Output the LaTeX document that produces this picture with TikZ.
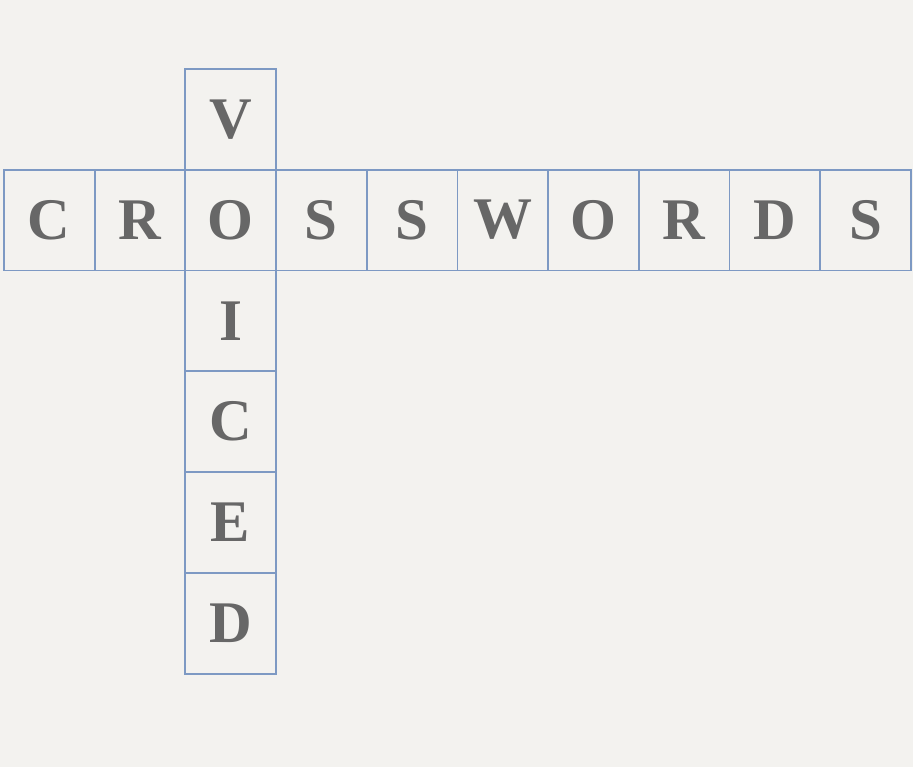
\documentclass[tikz,border=0pt]{standalone}
\usepackage{fontspec}
\setmainfont{Liberation Serif}
\definecolor{gridblue}{HTML}{7D99C3}
\definecolor{lettergray}{HTML}{676767}
\definecolor{paper}{HTML}{F3F2EF}
\begin{document}
\begin{tikzpicture}[x=1pt,y=-1pt,
  cell/.style={draw=gridblue,line width=1.8pt,minimum width=90.7pt,minimum height=100.8pt,inner sep=0pt,
    text=lettergray,font=\fontsize{59}{59}\selectfont\bfseries,anchor=north west}]
\fill[paper] (0,0) rectangle (913,767);
\useasboundingbox (0,0) rectangle (913,767);
\foreach \L [count=\i from 0] in {C,R,O,S,S,W,O,R,D,S}{
  \node[cell] (h\i) at ({3+\i*90.7},168.8) {\raisebox{-3pt}{\L}};
}
\foreach \L [count=\j from 0] in {V,X,I,C,E,D}{
  \ifnum\j=1\else
  \node[cell] (v\j) at ({3+2*90.7},{68+\j*100.8}) {\raisebox{-3pt}{\L}};
  \fi
}
\end{tikzpicture}
\end{document}
